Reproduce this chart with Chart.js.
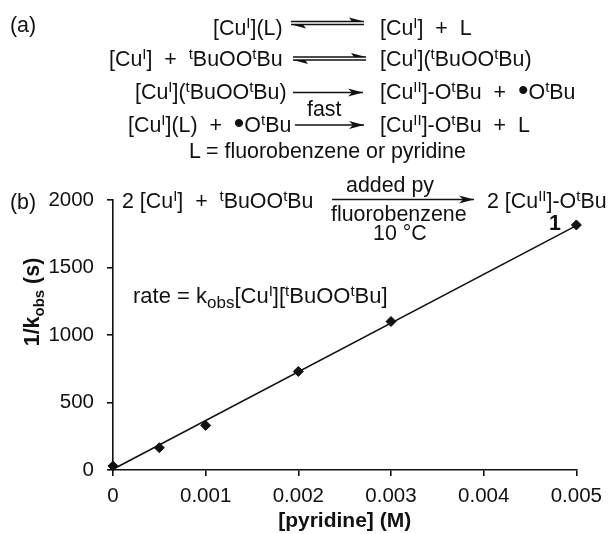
<!DOCTYPE html>
<html>
<head>
<meta charset="utf-8">
<script src="https://cdn.jsdelivr.net/npm/chart.js@4"></script>
<style>
  html, body { margin: 0; padding: 0; background: #fff; }
  #wrap { position: relative; width: 610px; height: 534px; overflow: hidden; }
  canvas { position: absolute; left: 0; top: 0; }
  svg { position: absolute; left: 0; top: 0; pointer-events: none; }
  .t { position: absolute; white-space: nowrap; font: 21.4px "Liberation Sans", Arial, sans-serif; color: #111; line-height: 24px; transform: translateY(-50%); }
  .t sup, .t sub { font-size: 15px; line-height: 0; }
  .t sup { vertical-align: 7px; }
  .t sub { vertical-align: -5px; }
  .t .rate { font-size: 22px; }
  .t .rate sub { font-size: 17px; }
  .rad { font-size: 30px; line-height: 0; vertical-align: -1px; }
</style>
</head>
<body>
<div id="wrap">
  <canvas id="chart" width="610" height="534"></canvas>
  <svg id="arrows" width="610" height="534"></svg>
</div>
<script>
// values
const pyridine = [0, 0.0005, 0.001, 0.002, 0.003, 0.005];
const invK = [30, 165, 330, 730, 1100, 1815];
const fitX = [0, 0.005];
const fitY = [5, 1810];
const xTicks = [0, 0.001, 0.002, 0.003, 0.004, 0.005];
const yTicks = [0, 500, 1000, 1500, 2000];

const CU1 = '[Cu<sup>I</sup>]';
const CU2 = '[Cu<sup>II</sup>]';
const PEROX = '<sup>t</sup>BuOO<sup>t</sup>Bu';
const RAD = '<span class="rad">&bull;</span>O<sup>t</sup>Bu';

// [text, x, y]
const labels = [
  ['(a)', 10, 25],
  [CU1 + '(L)', 213, 28],
  [CU1 + '&nbsp; + &nbsp;L', 380, 28],
  [CU1 + '&nbsp; + &nbsp;' + PEROX, 109, 59],
  [CU1 + '(' + PEROX + ')', 380, 59],
  [CU1 + '(' + PEROX + ')', 135, 92],
  [CU2 + '-O<sup>t</sup>Bu&nbsp; + &nbsp;' + RAD, 380, 92],
  ['fast', 307, 109],
  [CU1 + '(L)&nbsp; + &nbsp;' + RAD, 128, 125],
  [CU2 + '-O<sup>t</sup>Bu&nbsp; + &nbsp;L', 380, 125],
  ['L = fluorobenzene or pyridine', 189, 151],
  ['(b)', 10, 202],
  ['2 ' + CU1 + '&nbsp; + &nbsp;' + PEROX, 122, 201],
  ['added py', 346, 185],
  ['fluorobenzene', 331, 214],
  ['10 °C', 373, 233],
  ['2 ' + CU2 + '-O<sup>t</sup>Bu', 487, 201],
  ['<b>1</b>', 549, 223],
  ['<span class="rate">rate = k<sub>obs</sub>[Cu<sup>I</sup>][' + PEROX + ']</span>', 133, 296]
];

const wrap = document.getElementById('wrap');
labels.forEach(l => {
  const d = document.createElement('div');
  d.className = 't';
  d.innerHTML = l[0];
  d.style.left = l[1] + 'px';
  d.style.top = l[2] + 'px';
  wrap.appendChild(d);
});

// rotated y axis title
const yt = document.createElement('div');
yt.className = 't';
yt.innerHTML = '<b>1/k<sub>obs</sub> (s)</b>';
yt.style.left = '32px';
yt.style.top = '302px';
yt.style.transform = 'translate(-50%,-50%) rotate(-90deg)';
wrap.appendChild(yt);

// scheme arrows: full head = straight arrow, half = equilibrium barb
function arrow(x1, x2, y, dir, half) {
  const tip = dir > 0 ? x2 : x1;
  const base = tip - dir * 15;
  const side = half ? (dir > 0 ? -4 : 4) : 4;
  const head = half
    ? `${tip},${y} ${base},${y + side} ${base + dir * 3},${y}`
    : `${tip},${y} ${base},${y - 4} ${base + dir * 4},${y} ${base},${y + 4}`;
  return `<line x1="${x1}" x2="${x2}" y1="${y}" y2="${y}" stroke="#111" stroke-width="1.5"/>` +
    `<polygon points="${head}" fill="#111"/>`;
}
document.getElementById('arrows').innerHTML =
  arrow(291, 364, 21.5, 1, true) + arrow(291, 364, 24.5, -1, true) +
  arrow(293, 366, 57, 1, true) + arrow(293, 366, 60, -1, true) +
  arrow(293, 363, 92.5, 1, false) +
  arrow(295, 364, 125, 1, false) +
  arrow(332, 474, 199.5, 1, false);

new Chart(document.getElementById('chart'), {
  type: 'scatter',
  data: {
    datasets: [
      {
        data: pyridine.map((x, i) => ({ x: x, y: invK[i] })),
        pointStyle: 'rectRot',
        pointRadius: 5,
        backgroundColor: '#111',
        borderColor: '#111',
        showLine: false
      },
      {
        data: fitX.map((x, i) => ({ x: x, y: fitY[i] })),
        showLine: true,
        pointRadius: 0,
        borderColor: '#111',
        borderWidth: 1.6
      }
    ]
  },
  options: {
    responsive: false,
    animation: false,
    clip: false,
    layout: { padding: { left: 0, right: 33, top: 200, bottom: 0 } },
    plugins: { legend: { display: false }, tooltip: { enabled: false } },
    scales: {
      x: {
        type: 'linear',
        min: 0,
        max: 0.005,
        afterBuildTicks: s => { s.ticks = xTicks.map(v => ({ value: v })); },
        afterFit: s => { s.height = 64; },
        grid: { drawOnChartArea: false, color: '#111', lineWidth: 1.6, tickLength: 6 },
        border: { color: '#111', width: 1.6 },
        ticks: { color: '#111', font: { family: 'Liberation Sans', size: 20.5 }, maxRotation: 0, padding: 8,
          callback: v => String(v) },
        title: { display: true, text: '[pyridine] (M)', color: '#111', padding: 0,
          font: { family: 'Liberation Sans', size: 21, weight: 'bold' } }
      },
      y: {
        min: 0,
        max: 2000,
        afterBuildTicks: s => { s.ticks = yTicks.map(v => ({ value: v })); },
        afterFit: s => { s.width = 113; },
        grid: { drawOnChartArea: false, color: '#111', lineWidth: 1.6, tickLength: 6 },
        border: { color: '#111', width: 1.6 },
        ticks: { color: '#111', font: { family: 'Liberation Sans', size: 20.5 }, padding: 13,
          callback: v => String(v) }
      }
    }
  }
});
</script>
</body>
</html>
